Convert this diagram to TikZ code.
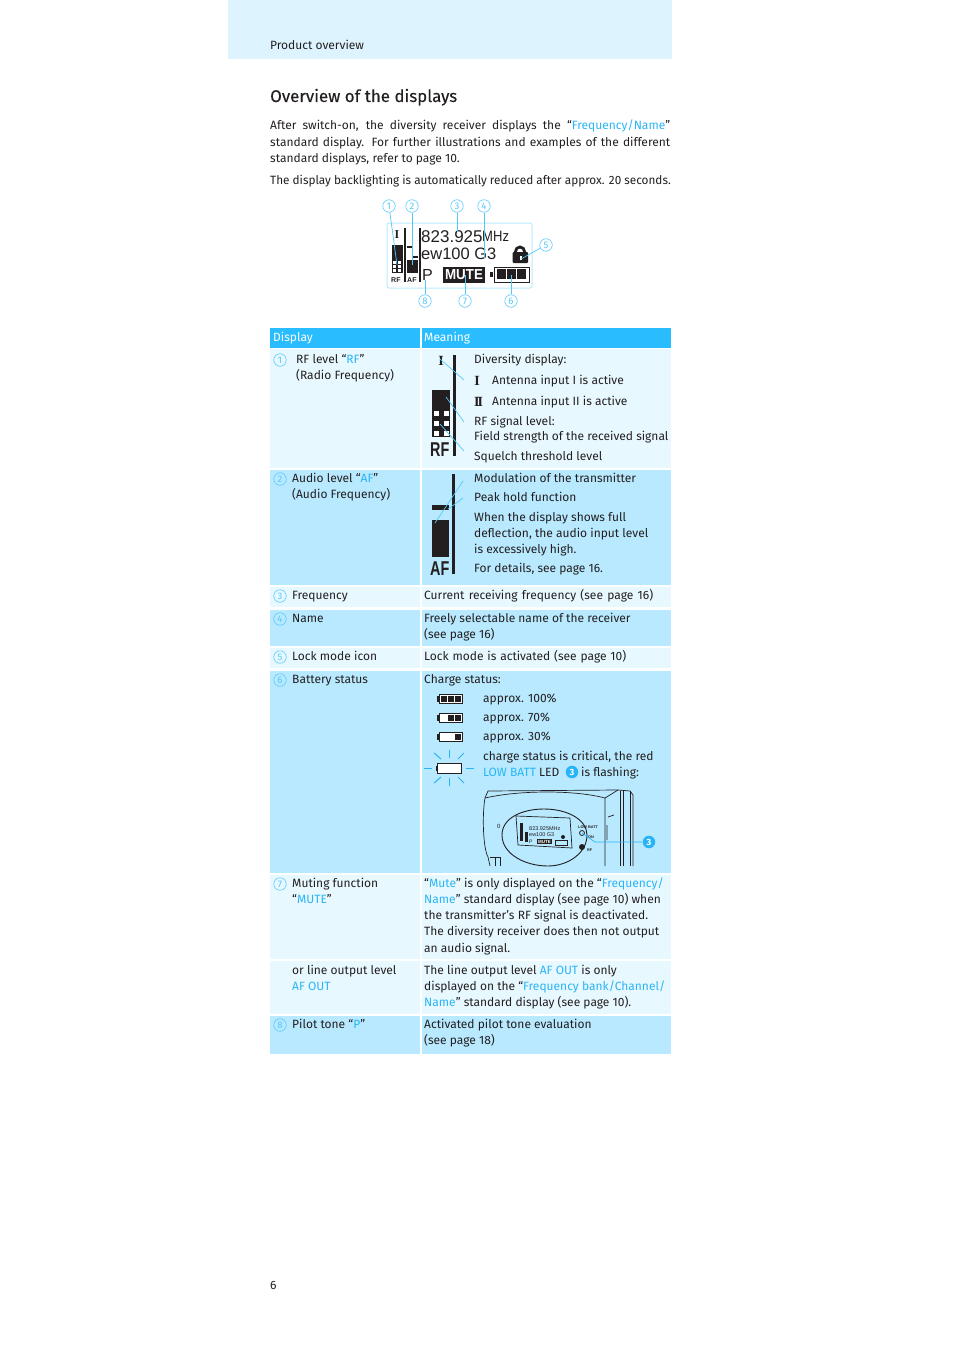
\documentclass[tikz,border=0pt]{standalone}
\usepackage{graphicx}
\usepackage{fontspec}
\setmainfont{Fira Sans}
\newfontfamily\titlefont[FakeBold=0.25]{Fira Sans}
\newfontfamily\lcdfont{Liberation Sans}
\newfontfamily\antfont{Liberation Serif}
\usetikzlibrary{calc,positioning}
\definecolor{bandblue}{HTML}{DDF4FF}
\definecolor{headblue}{HTML}{29BDFF}
\definecolor{rowlight}{HTML}{E8F8FF}
\definecolor{rowdark}{HTML}{B8E9FF}
\definecolor{linkblue}{HTML}{29B5F5}
\definecolor{numblue}{HTML}{55C8FA}
\definecolor{inkblack}{HTML}{231F20}
\newcommand{\lk}[1]{{\color{linkblue}#1}}
\newcommand{\bdy}{\fontsize{12}{16}\selectfont}
\newcommand{\lcd}[1]{\fontsize{#1}{#1}\selectfont\lcdfont}
\tikzset{%
  >=latex,
  txt/.style={anchor=base west,inner sep=0pt,font=\bdy,text=inkblack},
  headtxt/.style={anchor=base west,inner sep=0pt,font=\bdy,text=white},
  rowl/.style={fill=rowlight,draw=none},
  rowd/.style={fill=rowdark,draw=none},
  num/.style={circle,draw=numblue,fill=white,inner sep=0pt,minimum size=12.5pt,line width=.6pt,font=\fontsize{9.5}{9.5}\selectfont,text=numblue},
  numrow/.style={circle,draw=numblue,inner sep=0pt,minimum size=12.5pt,line width=.6pt,font=\fontsize{9.5}{9.5}\selectfont,text=numblue},
  numfull/.style={circle,fill=linkblue,inner sep=0pt,minimum size=12.5pt,font=\fontsize{9}{9}\selectfont\bfseries,text=white},
  callout/.style={draw=numblue,line width=.7pt},
  lcdtxt/.style={inner sep=0pt,anchor=base west,text=inkblack},
  anttxt/.style={inner sep=0pt,anchor=base,text=inkblack,font=\fontsize{14}{14}\selectfont\antfont\bfseries},
  ink/.style={fill=inkblack,draw=none},
  inkline/.style={draw=inkblack,line width=.7pt}
}
\begin{document}
\begin{tikzpicture}[x=1pt,y=-1pt]
	\useasboundingbox (0,0) rectangle (954,1351);
	% top band
	\fill[bandblue] (228,0) rectangle (672,59);
	\node[txt] (chapter) at (270,50) {Product overview};
	\node[txt,font=\fontsize{16.9}{16}\selectfont\titlefont] (title) at (270,102) {Overview of the displays};
	\node[txt] (intro1) at (270,130) {\makebox[400pt][s]{After switch-on, the diversity receiver displays the “\lk{Frequency/Name}”}};
	\node[txt] (intro2) at (270,147) {\makebox[400pt][s]{standard display. For further illustrations and examples of the different}};
	\node[txt] (intro3) at (270,163) {standard displays, refer to page 10.};
	\node[txt] (backlight) at (270,185) {\scalebox{.98}[1]{The display backlighting is automatically reduced after approx. 20 seconds.}};

	% lcd overview
	\draw[rowdark,line width=1pt,rounded corners=2pt] (387,223) rectangle (532,288);
	\fill[inkblack] (392,245) rectangle (403,273);
	\foreach \x in {393,398} \foreach \y in {261,265,269} \fill[white] (\x,\y) rectangle +(2.5,2.5);
	\node[lcdtxt,font=\lcd{7}\bfseries] (lcdrf) at (391,282) {RF};
	\node[lcdtxt,font=\lcd{7}\bfseries] (lcdaf) at (407,282) {AF};
	\node[anttxt,font=\fontsize{12}{12}\selectfont\antfont\bfseries] (lcdant) at (397,238.5) {I};
	\fill[inkblack] (404,228) rectangle (406,282);
	\fill[inkblack] (419,228) rectangle (421,282);
	\fill[inkblack] (407,246) rectangle (412,248);
	\fill[inkblack] (413,256) rectangle (418,258);
	\fill[inkblack] (407,260) rectangle (418,273);
	\node[lcdtxt,font=\lcd{17}] (lcdfreq) at (421,242) {823.925};
	\node[lcdtxt,font=\lcd{15}] (lcdmhz) at (482,241.5) {\scalebox{.87}[1]{MHz}};
	\node[lcdtxt,font=\lcd{16.5}] (lcdname) at (421,259.5) {ew100 G3};
	\node[lcdtxt,font=\lcd{16}] (lcdp) at (422,280) {P};
	\node[ink,text=white,inner sep=0pt,font=\lcd{14.5}\bfseries,minimum width=42pt,minimum height=16pt] (lcdmute) at (464,274.5) {\scalebox{.92}[1]{MUTE}};
	% lock
	\draw[inkblack,line width=2.8pt] (520,251.5) circle (4.5pt);
	\fill[inkblack,rounded corners=1pt] (512.5,252) rectangle (528,263);
	\fill[white] (520,256) rectangle (522,260);
	\coordinate (lockend) at (521,259);
	% battery
	\fill[inkblack] (490,272) rectangle (493,277);
	\draw[inkblack,line width=.7pt] (494,267) rectangle (529,282);
	\foreach \x in {497,507,517} \fill[inkblack] (\x,269) rectangle +(9,10);

	\node[num] (c1) at (389,206) {1};
	\node[num] (c2) at (412,206) {2};
	\node[num] (c3) at (457,206) {3};
	\node[num] (c4) at (484,206) {4};
	\node[num] (c5) at (546,245) {5};
	\node[num] (c6) at (511,301) {6};
	\node[num] (c7) at (465,301) {7};
	\node[num] (c8) at (425,301) {8};
	\draw[callout] (c1) -- (397,265);
	\draw[callout] (c2) -- (412,265);
	\draw[callout] (c3) -- (457,232);
	\draw[callout] (c4) -- (484,258);
	\draw[callout] (c5) -- (lockend);
	\draw[callout] (c6) -- (511,275);
	\draw[callout] (c7) -- (465,275);
	\draw[callout] (c8) -- (425,280);

	% table
	\fill[headblue] (270,328) rectangle (420,348);
	\fill[headblue] (422,328) rectangle (671,348);
	\node[headtxt] (hdisplay) at (273,341) {Display};
	\node[headtxt] (hmeaning) at (424,341) {Meaning};
	\foreach \ya/\yb/\st in {349/468/rowl,470/585/rowd,587/607/rowl,610/646/rowd,648/668/rowl,671/873/rowd,875/959/rowl,961/1014/rowl,1016/1054/rowd} {
		\path[\st] (270,\ya) rectangle (420,\yb);
		\path[\st] (422,\ya) rectangle (671,\yb);
	}

	% left column
	\node[numrow] (r1) at (280,360) {1};
	\node[txt] (rf1) at (296,363) {RF level “\lk{RF}”};
	\node[txt] (rf2) at (296,379) {(Radio Frequency)};
	\node[numrow] (r2) at (280,479) {2};
	\node[txt] (af1) at (292,482) {Audio level “\lk{AF}”};
	\node[txt] (af2) at (292,498) {(Audio Frequency)};
	\node[numrow] (r3) at (280,596) {3};
	\node[txt] (fr1) at (292,599) {Frequency};
	\node[numrow] (r4) at (280,619) {4};
	\node[txt] (nm1) at (292,622) {Name};
	\node[numrow] (r5) at (280,657) {5};
	\node[txt] (lk1) at (292,660) {Lock mode icon};
	\node[numrow] (r6) at (280,680) {6};
	\node[txt] (bt1) at (292,683) {Battery status};
	\node[numrow] (r7) at (280,884) {7};
	\node[txt] (mu1) at (292,887) {Muting function};
	\node[txt] (mu2) at (292,903) {“\lk{MUTE}”};
	\node[txt] (lo1) at (292,974) {or line output level};
	\node[txt] (lo2) at (292,990) {\lk{AF OUT}};
	\node[numrow] (r8) at (280,1025) {8};
	\node[txt] (pt1) at (292,1028) {Pilot tone “\lk{P}”};

	% rf detail
	\fill[inkblack] (453,355) rectangle (456,456);
	\node[anttxt] (rfant) at (441,365) {I};
	\fill[inkblack] (432,390) rectangle (450,437);
	\foreach \x in {434,444} \foreach \y in {411,421,431} \fill[white] (\x,\y) rectangle +(4.5,4.5);
	\node[lcdtxt,font=\lcd{20}\bfseries] (rflabel) at (430,456) {\scalebox{.72}[1]{RF}};
	\coordinate (rfa) at (464,380);
	\coordinate (rfb) at (464,422);
	\coordinate (rfc) at (464,451);
	\draw[callout] (rfa) -- (440,359);
	\draw[callout] (rfb) -- (446,397);
	\draw[callout] (rfc) -- (440,424);
	\node[txt] (d1) at (474,363) {Diversity display:};
	\node[anttxt] (d2i) at (477,385) {I};
	\node[txt] (d2) at (492,384) {Antenna input I is active};
	\node[anttxt] (d3i) at (478.5,406) {I\kern-2ptI};
	\node[txt] (d3) at (492,405) {Antenna input II is active};
	\node[txt] (d4) at (474,425) {RF signal level:};
	\node[txt] (d5) at (474,440) {Field strength of the received signal};
	\node[txt] (d6) at (474,460) {Squelch threshold level};

	% af detail
	\fill[inkblack] (452,474) rectangle (455,574);
	\fill[inkblack] (432,505) rectangle (449,510);
	\fill[inkblack] (432,520) rectangle (449,557);
	\node[lcdtxt,font=\lcd{20}\bfseries] (aflabel) at (430,575) {\scalebox{.72}[1]{AF}};
	\coordinate (afa) at (463,481);
	\coordinate (afb) at (463,498);
	\draw[callout] (afa) -- (435,523);
	\draw[callout] (afb) -- (448,509);
	\node[txt] (m1) at (474,482) {Modulation of the transmitter};
	\node[txt] (m2) at (474,501) {Peak hold function};
	\node[txt] (m3) at (474,521) {When the display shows full};
	\node[txt] (m4) at (474,537) {deflection, the audio input level};
	\node[txt] (m5) at (474,553) {is excessively high.};
	\node[txt] (m6) at (474,572) {For details, see page 16.};

	% right column
	\node[txt] (q1) at (424,599) {\makebox[229pt][s]{Current receiving frequency (see page 16)}};
	\node[txt] (q2) at (424,622) {Freely selectable name of the receiver};
	\node[txt] (q3) at (424,638) {(see page 16)};
	\node[txt] (q4) at (424,660) {\makebox[202pt][s]{Lock mode is activated (see page 10)}};
	\node[txt] (q5) at (424,683) {Charge status:};

	% battery levels
	\foreach \y in {698.5,717.5,737} {
		\fill[inkblack] (437,\y-3) rectangle (439,\y+3);
		\draw[inkblack,fill=white,line width=.8pt] (439.5,\y-4.5) rectangle (462,\y+4.5);
	}
	\foreach \x in {441,448,455} \fill[inkblack] (\x,695.5) rectangle +(6,6);
	\foreach \x in {448,455} \fill[inkblack] (\x,714.5) rectangle +(6,6);
	\fill[inkblack] (455,734) rectangle +(6,6);
	\node[txt] (b1) at (483,702) {approx. 100\%};
	\node[txt] (b2) at (483,721) {approx. 70\%};
	\node[txt] (b3) at (483,740) {approx. 30\%};
	% flashing battery
	\fill[inkblack] (435.5,765.5) rectangle (437.5,771);
	\draw[inkblack,fill=white,line width=.8pt] (437.5,763.5) rectangle (461,773.5);
	\foreach \a/\b/\c/\d in {449/750/449/758,449/778/449/786,424/768/432/768,466/768/474/768,434/753/441/759,464/753/458/759,434/783/441/777,464/783/458/777}
		\draw[linkblue,line width=1pt] (\a,\b) -- (\c,\d);
	\node[txt] (b4) at (483,760) {charge status is critical, the red};
	\node[txt] (b5) at (483,776) {\lk{LOW BATT} LED};
	\node[numfull] (b5n) at (572,772) {3};
	\node[txt] (b6) at (581,776) {is flashing:};

	% device
	\begin{scope}[inkline]
		\draw (490,866) -- (488,857) .. controls (483,848) and (482,815) .. (485,798) -- (488,791) -- (618,790) -- (630,791) -- (633,795) -- (633,866);
		\draw (485,798) .. controls (520,790) and (575,790) .. (605,798) -- (605,866);
		\draw (605,798) -- (618,790);
		\draw (620,791) -- (620,866) (623,791) -- (623,866) (630,791) -- (630,866);
		\draw (608,817) -- (614,815) (607,825) -- (607,840);
		\draw (495,857) -- (495,866) (500,857) -- (500,866);
		\draw (490,857) -- (500,857);
		\draw[line width=.9pt] (544,809) .. controls (522,809) and (502,818) .. (502,835) .. controls (502,854) and (525,866) .. (548,866) .. controls (568,866) and (587,853) .. (587,835) .. controls (587,820) and (568,809) .. (544,809);
		\draw (516,816) -- (570,818) -- (572,848) -- (518,845) -- cycle;
	\end{scope}
	\fill[inkblack] (520,823) rectangle (523,841);
	\fill[inkblack] (525,832) rectangle (528,842);
	\node[lcdtxt,font=\lcd{5.5}] (devfreq) at (529,830) {823.925MHz};
	\node[lcdtxt,font=\lcd{5.5}] (devname) at (529,836.5) {ew100 G3};
	\node[lcdtxt,font=\lcd{5}] (devp) at (529,843) {P};
	\node[ink,text=white,inner sep=.5pt,font=\lcd{4.5}\bfseries,minimum width=15pt] (devmute) at (544.5,841.5) {MUTE};
	\draw[inkblack,line width=.8pt] (555,840) rectangle (567,845);
	\fill[inkblack] (563,837) circle (2pt);
	\node[lcdtxt,font=\lcd{3.8}\bfseries] (devlow) at (578,828) {LOW BATT};
	\node[lcdtxt,font=\lcd{3.8}\bfseries] (devon) at (588,838) {ON};
	\node[lcdtxt,font=\lcd{3.8}\bfseries] (devrf) at (587,851) {RF};
	\node[lcdtxt,font=\lcd{6}] (devo) at (497,828) {0};
	\fill[inkblack] (582,847) circle (3pt);
	\draw[inkblack,line width=.8pt] (582,833) circle (2.5pt);
	\coordinate (devled) at (582,833);
	\node[numfull] (n3) at (649,842) {3};
	\draw[callout,draw=linkblue] (n3) -- (595,842) -- (devled);

	\node[txt] (w1) at (424,887) {“\lk{Mute}” is only displayed on the “\lk{Frequency/}};
	\node[txt] (w2) at (424,903) {\lk{Name}” standard display (see page 10) when};
	\node[txt] (w3) at (424,919) {the transmitter’s RF signal is deactivated.};
	\node[txt] (w4) at (424,935) {The diversity receiver does then not output};
	\node[txt] (w5) at (424,952) {an audio signal.};
	\node[txt] (w6) at (424,974) {The line output level \lk{AF OUT} is only};
	\node[txt] (w7) at (424,990) {displayed on the “\lk{Frequency bank/Channel/}};
	\node[txt] (w8) at (424,1006) {\lk{Name}” standard display (see page 10).};
	\node[txt] (w9) at (424,1028) {Activated pilot tone evaluation};
	\node[txt] (w10) at (424,1044) {(see page 18)};

	\node[txt] (pageno) at (270,1289) {6};
\end{tikzpicture}
\end{document}
